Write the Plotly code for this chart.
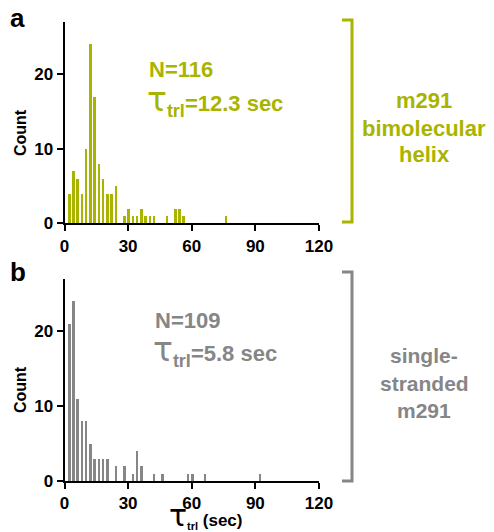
import plotly.graph_objects as go

# ---- data ----
top_x = [2, 4, 6, 8, 10, 12, 14, 16, 18, 20, 22, 24, 28, 30, 32, 34, 36, 38, 40, 42, 48, 52, 54, 56, 76]
top_y = [4, 7, 6, 4, 10, 24, 17, 8, 6, 4, 4, 5, 1, 2, 1, 1, 2, 1, 1, 1, 1, 2, 2, 1, 1]
bot_x = [2, 4, 6, 8, 10, 12, 14, 16, 18, 20, 24, 28, 32, 34, 36, 42, 46, 58, 60, 66, 92]
bot_y = [21, 24, 11, 8, 8, 5, 3, 3, 3, 3, 2, 2, 1, 4, 2, 1, 1, 1, 1, 1, 1]
x_ticks = [0, 30, 60, 90, 120]
y_ticks = [0, 10, 20]

GREEN = "#a9b400"
GRAY = "#868686"
FONT = "Liberation Sans"
W, H = 494, 532

def px(x):
    return x / W

def py(y):
    return 1 - y / H

fig = go.Figure()
fig.add_trace(go.Bar(x=top_x, y=top_y, width=1.2, marker=dict(color=GREEN, line=dict(width=0)),
                     xaxis="x", yaxis="y", showlegend=False, hoverinfo="skip"))
fig.add_trace(go.Bar(x=bot_x, y=bot_y, width=1.2, marker=dict(color=GRAY, line=dict(width=0)),
                     xaxis="x2", yaxis="y2", showlegend=False, hoverinfo="skip"))

axis_common = dict(showline=True, linecolor="black", linewidth=2, ticks="outside", ticklen=6,
                   tickwidth=2, tickcolor="black", showgrid=False, zeroline=False, automargin=False,
                   tickfont=dict(family=FONT, size=17, color="black", weight="bold"))

xdom = [px(64.5), px(319)]
fig.update_layout(
    width=W, height=H, margin=dict(l=0, r=0, t=0, b=0),
    plot_bgcolor="white", paper_bgcolor="white", bargap=0,
    xaxis=dict(domain=xdom, range=[0, 120], tickvals=x_ticks, anchor="y", **axis_common),
    yaxis=dict(domain=[py(223.4), py(21.7)], range=[0, 27], tickvals=y_ticks, anchor="x", **axis_common),
    xaxis2=dict(domain=xdom, range=[0, 120], tickvals=x_ticks, anchor="y2", **axis_common),
    yaxis2=dict(domain=[py(481), py(279)], range=[0, 27], tickvals=y_ticks, anchor="x2", **axis_common),
)

def ann(text, x, y, color, size, xanchor="center", yanchor="middle", align="center", textangle=0):
    fig.add_annotation(text=text, x=px(x), y=py(y), xref="paper", yref="paper", showarrow=False,
                       xanchor=xanchor, yanchor=yanchor, align=align, textangle=textangle,
                       font=dict(family=FONT, size=size, color=color, weight="bold"))

def tau(size):
    return f'<span style="font-family:DejaVu Sans;font-size:{size}px;font-weight:normal">τ</span>'

def sub(text, size, shift):
    return f'<span style="font-size:{size}px;baseline-shift:-{shift}px">{text}</span>'

# panel labels
ann("a", 8, 18, "black", 26, xanchor="left")
ann("b", 8, 272, "black", 26, xanchor="left")

# y axis titles
ann("Count", 20, 133, "black", 16, textangle=-90)
ann("Count", 20, 390, "black", 16, textangle=-90)

# stats text
ann("N=116", 147, 70, GREEN, 22, xanchor="left")
ann(tau(33) + sub("trl", 18, 6) + "=12.3 sec", 145, 100, GREEN, 22, xanchor="left")
ann("N=109", 153, 320, GRAY, 22, xanchor="left")
ann(tau(33) + sub("trl", 18, 6) + "=5.8 sec", 151, 350, GRAY, 22, xanchor="left")

# right labels
for t, yy in [("m291", 100), ("bimolecular", 128), ("helix", 155)]:
    ann(t, 424, yy, GREEN, 22)
for t, yy in [("single-", 355), ("stranded", 383), ("m291", 410)]:
    ann(t, 424, yy, GRAY, 21)

# x axis title
ann(tau(30) + sub("trl", 11, 4) + " (sec)", 205, 515, "black", 17)

# brackets
for (y0, y1, c) in [(20, 222, GREEN), (272, 481, GRAY)]:
    fig.add_shape(type="path", xref="paper", yref="paper",
                  path=f"M {px(342)} {py(y0)} L {px(352)} {py(y0)} L {px(352)} {py(y1)} L {px(342)} {py(y1)}",
                  line=dict(color=c, width=3))

fig.write_html("out.html", config={"displayModeBar": False},
               post_script="document.body.style.margin='0px';document.body.style.overflow='hidden';")
